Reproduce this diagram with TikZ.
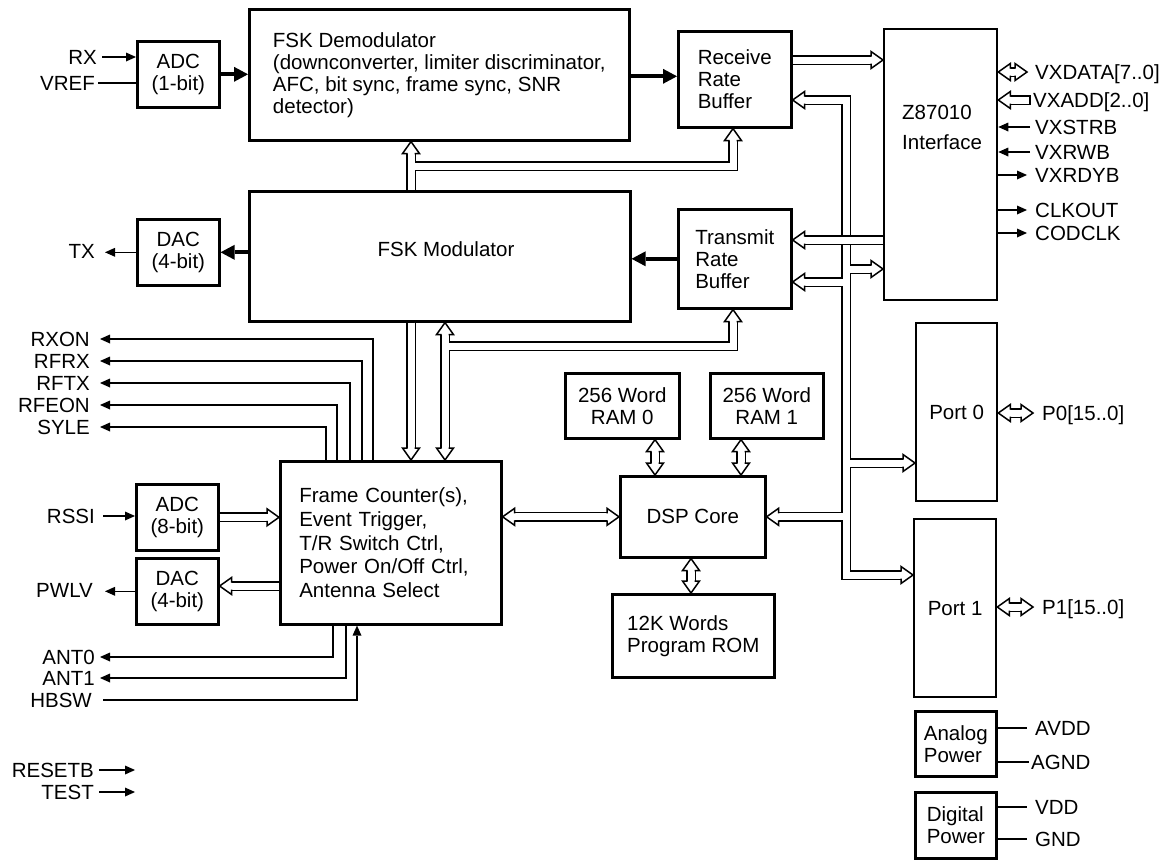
\documentclass[tikz,border=0pt]{standalone}
\usepackage{fontspec}
\setmainfont{Liberation Sans}
\usetikzlibrary{arrows.meta,calc}
\newcommand\busnet[1]{\draw[busout] #1; \draw[busin] #1;}
\tikzset{
 every node/.style={font=\fontsize{20.5pt}{22pt}\selectfont},
 box/.style={draw, line width=2.6pt, inner sep=0pt, anchor=north west, align=center},
 lab/.style={inner ysep=0pt, inner xsep=#1, text height=14.7pt, text depth=0pt},
 lab/.default=4pt,
 sig/.style={line width=1.5pt},
 sarr/.style={sig, -{Triangle[length=10pt,width=9pt,line width=0pt]}},
 thk/.style={line width=4pt, -{Triangle[length=14pt,width=15pt,line width=0pt]}},
 busout/.style={line width=10pt, line join=miter, line cap=butt, draw=black},
 busin/.style={line width=7pt, line join=miter, line cap=butt, draw=white},
 headstyle/.style={fill=white, draw=black, line width=1.5pt, line join=miter, miter limit=10},
 hr/.pic={\filldraw[headstyle] (-12,3.5) -- (-12,8.5) -- (0,0) -- (-12,-8.5) -- (-12,-3.5);},
 hl/.pic={\filldraw[headstyle] (12,3.5) -- (12,8.5) -- (0,0) -- (12,-8.5) -- (12,-3.5);},
 hu/.pic={\filldraw[headstyle] (3.5,12) -- (8.5,12) -- (0,0) -- (-8.5,12) -- (-3.5,12);},
 hd/.pic={\filldraw[headstyle] (3.5,-12) -- (8.5,-12) -- (0,0) -- (-8.5,-12) -- (-3.5,-12);},
}
\begin{document}
\begin{tikzpicture}[x=1pt,y=-1pt]
\fill[white] (0,0) rectangle (1167,860);
\useasboundingbox (0,0) rectangle (1167,860);

% ---------- boxes ----------
\node[box, minimum width=82pt, minimum height=66pt] (adc1) at (136,40) {ADC\\(1-bit)};
\node[box, align=left, minimum width=380pt, minimum height=131pt] (demod) at (248,8)
  {FSK Demodulator\\(downconverter, limiter discriminator,\\AFC, bit sync, frame sync, SNR\\detector)};
\node[box, align=left, minimum width=113pt, minimum height=96pt] (rrb) at (677,30) {Receive\\Rate\\Buffer};
\node[box, line width=2.3pt, minimum width=113pt, minimum height=271pt] (z) at (883,28) {};
\node[anchor=west, align=left, inner sep=0pt, font=\fontsize{20.5pt}{30pt}\selectfont] (ztext) at (902,127) {Z87010\\Interface};
\node[box, minimum width=82pt, minimum height=66pt] (dac1) at (136,218) {DAC\\(4-bit)};
\node[box, minimum width=381pt, minimum height=130pt] (mod) at (248,190) {};
\node[lab=0pt] (modtext) at (446,249) {FSK Modulator};
\node[box, align=left, minimum width=113pt, minimum height=99pt] (trb) at (677,208) {Transmit\\Rate\\Buffer};
\node[box, align=left, text width=183pt, minimum width=221pt, minimum height=163pt,
  font=\fontsize{20.5pt}{23.7pt}\selectfont] (fc) at (279,460)
  {Frame Counter(s),\\Event Trigger,\\T/R Switch Ctrl,\\Power On/Off Ctrl,\\Antenna Select};
\node[box, minimum width=82pt, minimum height=66pt] (adc8) at (135,483) {ADC\\(8-bit)};
\node[box, minimum width=82pt, minimum height=66pt] (dac2) at (135,557) {DAC\\(4-bit)};
\node[box, minimum width=114pt, minimum height=65pt] (ram0) at (564,372) {256 Word\\RAM 0};
\node[box, minimum width=113pt, minimum height=65pt] (ram1) at (709,372) {256 Word\\RAM 1};
\node[box, minimum width=145pt, minimum height=81pt] (dsp) at (619,475) {DSP Core};
\node[box, align=left, minimum width=162pt, minimum height=83pt] (rom) at (611,593) {12K Words\\Program ROM};
\node[box, line width=2.3pt, minimum width=81pt, minimum height=178pt] (port0) at (915,322) {Port 0};
\node[box, line width=2.3pt, minimum width=82pt, minimum height=178pt] (port1) at (913,518) {Port 1};
\node[box, align=left, minimum width=81pt, minimum height=65pt] (apwr) at (914,710) {Analog\\Power};
\node[box, align=left, minimum width=81pt, minimum height=66pt] (dpwr) at (914,791) {Digital\\Power};

% ---------- left labels ----------
\node[lab=5pt, anchor=east] (rx) at (102,57) {RX};
\node[lab=3pt, anchor=east] (vref) at (98,83) {VREF};
\node[lab=10pt, anchor=east] (tx) at (105,251) {TX};
\node[lab=10pt, anchor=east] (rxon) at (100,339) {RXON};
\node[lab=10pt, anchor=east] (rfrx) at (100,361) {RFRX};
\node[lab=10pt, anchor=east] (rftx) at (100,383) {RFTX};
\node[lab=10pt, anchor=east] (rfeon) at (100,405) {RFEON};
\node[lab=10pt, anchor=east] (syle) at (100,427) {SYLE};
\node[lab=8pt, anchor=east] (rssi) at (103,516) {RSSI};
\node[lab=12pt, anchor=east] (pwlv) at (105,590) {PWLV};
\node[lab=5pt, anchor=east] (ant0) at (100,657) {ANT0};
\node[lab=5pt, anchor=east] (ant1) at (100,678) {ANT1};
\node[lab=11pt, anchor=east] (hbsw) at (103,700) {HBSW};
\node[lab=5pt, anchor=east] (resetb) at (99,770) {RESETB};
\node[lab=5pt, anchor=east] (test) at (99,792) {TEST};
\coordinate (rsend) at (135,770);
\coordinate (tsend) at (135,792);

% ---------- right labels ----------
\node[lab=8pt, anchor=west] (vxdata) at (1027,72) {VXDATA[7..0]};
\node[lab=3pt, anchor=west] (vxadd) at (1030,100) {VXADD[2..0]};
\node[lab=5pt, anchor=west] (vxstrb) at (1030,127) {VXSTRB};
\node[lab=5pt, anchor=west] (vxrwb) at (1030,152) {VXRWB};
\node[lab=8pt, anchor=west] (vxrdyb) at (1027,175) {VXRDYB};
\node[lab=8pt, anchor=west] (clkout) at (1027,210) {CLKOUT};
\node[lab=8pt, anchor=west] (codclk) at (1027,233) {CODCLK};
\node[lab=9pt, anchor=west] (p0) at (1033,413) {P0[15..0]};
\node[lab=9pt, anchor=west] (p1) at (1033,607) {P1[15..0]};
\node[lab=8pt, anchor=west] (avdd) at (1027,728) {AVDD};
\node[lab=2pt, anchor=west] (agnd) at (1029,762) {AGND};
\node[lab=8pt, anchor=west] (vdd) at (1027,807) {VDD};
\node[lab=8pt, anchor=west] (gnd) at (1027,839) {GND};

% ---------- signal connectors ----------
\draw[sarr] (rx.east) -- (rx.east -| adc1.west);
\draw[sig] (vref.east) -- (vref.east -| adc1.west);
\draw[thk] (adc1.east) -- (adc1.east -| demod.west);
\coordinate (drr) at ($(rrb.west)+(0,-3)$);
\draw[thk] (drr -| demod.east) -- (drr);
\draw[thk] (trb.west) -- (trb.west -| mod.east);
\draw[thk] (mod.west |- dac1.east) -- (dac1.east);
\draw[sarr] (dac1.west) -- (dac1.west -| tx.east);

\draw[sarr] ($(fc.north west)+(94,0)$) |- (rxon.east);
\draw[sarr] ($(fc.north west)+(83,0)$) |- (rfrx.east);
\draw[sarr] ($(fc.north west)+(71,0)$) |- (rftx.east);
\draw[sarr] ($(fc.north west)+(58,0)$) |- (rfeon.east);
\draw[sarr] ($(fc.north west)+(47,0)$) |- (syle.east);
\draw[sarr] ($(fc.south west)+(54,0)$) |- (ant0.east);
\draw[sarr] ($(fc.south west)+(67,0)$) |- (ant1.east);
\draw[sarr] (hbsw.east) -| ($(fc.south west)+(78,0)$);
\draw[sarr] (rssi.east) -- (rssi.east -| adc8.west);
\draw[sarr] (dac2.west) -- (dac2.west -| pwlv.east);
\draw[sarr] (resetb.east) -- (rsend);
\draw[sarr] (test.east) -- (tsend);

\draw[sarr] (vxstrb.west) -- (vxstrb.west -| z.east);
\draw[sarr] (vxrwb.west) -- (vxrwb.west -| z.east);
\draw[sarr] (vxrdyb.west -| z.east) -- (vxrdyb.west);
\draw[sarr] (clkout.west -| z.east) -- (clkout.west);
\draw[sarr] (codclk.west -| z.east) -- (codclk.west);
\draw[sig] (avdd.west -| apwr.east) -- (avdd.west);
\draw[sig] (agnd.west -| apwr.east) -- (agnd.west);
\draw[sig] (vdd.west -| dpwr.east) -- (vdd.west);
\draw[sig] (gnd.west -| dpwr.east) -- (gnd.west);

% ---------- buses ----------
\coordinate (xA) at (411,0);
\coordinate (xC) at (445,0);
\coordinate (xR) at (733,0);
\coordinate (yA) at (0,166);
\coordinate (yC) at (0,346);
\coordinate (yE) at (0,586);

% A: modulator to demodulator and receive buffer
\busnet{(xA |- mod.north) -- ($(xA |- demod.south)+(0,10)$) (xA |- yA) -| ($(xR |- rrb.south)+(0,10)$)}
\pic at (xA |- demod.south) {hu};
\pic at (xR |- rrb.south) {hu};

% B: modulator to frame counter
\busnet{(xA |- mod.south) -- ($(xA |- fc.north)+(0,-10)$)}
\pic at (xA |- fc.north) {hd};

% C: modulator <-> frame counter, to transmit buffer
\busnet{($(xC |- mod.south)+(0,10)$) -- ($(xC |- fc.north)+(0,-10)$) (xC |- yC) -| ($(xR |- trb.south)+(0,10)$)}
\pic at (xC |- mod.south) {hu};
\pic at (xC |- fc.north) {hd};
\pic at (xR |- trb.south) {hu};

% D, E, F
\busnet{(adc8.east) -- ($(adc8.east -| fc.west)+(-10,0)$)}
\pic at (adc8.east -| fc.west) {hr};
\busnet{(fc.west |- yE) -- ($(dac2.east |- yE)+(10,0)$)}
\pic at (dac2.east |- yE) {hl};
\busnet{($(dsp.west -| fc.east)+(10,0)$) -- ($(dsp.west)+(-10,0)$)}
\pic at (dsp.west -| fc.east) {hl};
\pic at (dsp.west) {hr};

% G, H, I: memories
\coordinate (xG) at (655,0);
\coordinate (xH) at (741,0);
\coordinate (xI) at (691,0);
\busnet{($(xG |- ram0.south)+(0,10)$) -- ($(xG |- dsp.north)+(0,-10)$)}
\pic at (xG |- ram0.south) {hu};
\pic at (xG |- dsp.north) {hd};
\busnet{($(xH |- ram1.south)+(0,10)$) -- ($(xH |- dsp.north)+(0,-10)$)}
\pic at (xH |- ram1.south) {hu};
\pic at (xH |- dsp.north) {hd};
\busnet{($(xI |- dsp.south)+(0,10)$) -- ($(xI |- rom.north)+(0,-10)$)}
\pic at (xI |- dsp.south) {hu};
\pic at (xI |- rom.north) {hd};

% J: main internal bus
\coordinate (xJ) at (846,0);
\coordinate (yJ0) at (0,100);
\coordinate (yJ1) at (0,269);
\coordinate (yJ2) at (0,282);
\coordinate (yJ3) at (0,463);
\coordinate (yJ5) at (0,575);
\busnet{($(rrb.east |- yJ0)+(10,0)$) -| (xJ |- yJ5) -- ($(port1.west |- yJ5)+(-10,0)$)
 (xJ |- yJ1) -- ($(z.west |- yJ1)+(-10,0)$)
 (xJ |- yJ2) -- ($(trb.east |- yJ2)+(10,0)$)
 (xJ |- yJ3) -- ($(port0.west |- yJ3)+(-10,0)$)
 (xJ |- dsp.east) -- ($(dsp.east)+(10,0)$)}
\pic at (rrb.east |- yJ0) {hl};
\pic at (port1.west |- yJ5) {hr};
\pic at (z.west |- yJ1) {hr};
\pic at (trb.east |- yJ2) {hl};
\pic at (port0.west |- yJ3) {hr};
\pic at (dsp.east) {hl};

% K: Z87010 to transmit buffer (crossing)
\coordinate (yK) at (0,240);
\busnet{(z.west |- yK) -- ($(trb.east |- yK)+(10,0)$)}
\pic at (trb.east |- yK) {hl};

% L: receive buffer to Z87010
\coordinate (yL) at (0,60);
\busnet{(rrb.east |- yL) -- ($(z.west |- yL)+(-10,0)$)}
\pic at (z.west |- yL) {hr};

% M: VXDATA
\busnet{($(z.east |- vxdata.west)+(10,0)$) -- ($(vxdata.west)+(-10,0)$)}
\pic at (z.east |- vxdata.west) {hl};
\pic at (vxdata.west) {hr};

% N: VXADD
\busnet{(vxadd.west) -- ($(z.east |- vxadd.west)+(10,0)$)}
\pic at (z.east |- vxadd.west) {hl};
\draw[line width=1.5pt] ($(vxadd.west)+(0,-5)$) -- ($(vxadd.west)+(0,5)$);

% O, P: ports
\busnet{($(port0.east |- p0.west)+(10,0)$) -- ($(p0.west)+(-10,0)$)}
\pic at (port0.east |- p0.west) {hl};
\pic at (p0.west) {hr};
\busnet{($(port1.east |- p1.west)+(10,0)$) -- ($(p1.west)+(-10,0)$)}
\pic at (port1.east |- p1.west) {hl};
\pic at (p1.west) {hr};
\end{tikzpicture}
\end{document}
